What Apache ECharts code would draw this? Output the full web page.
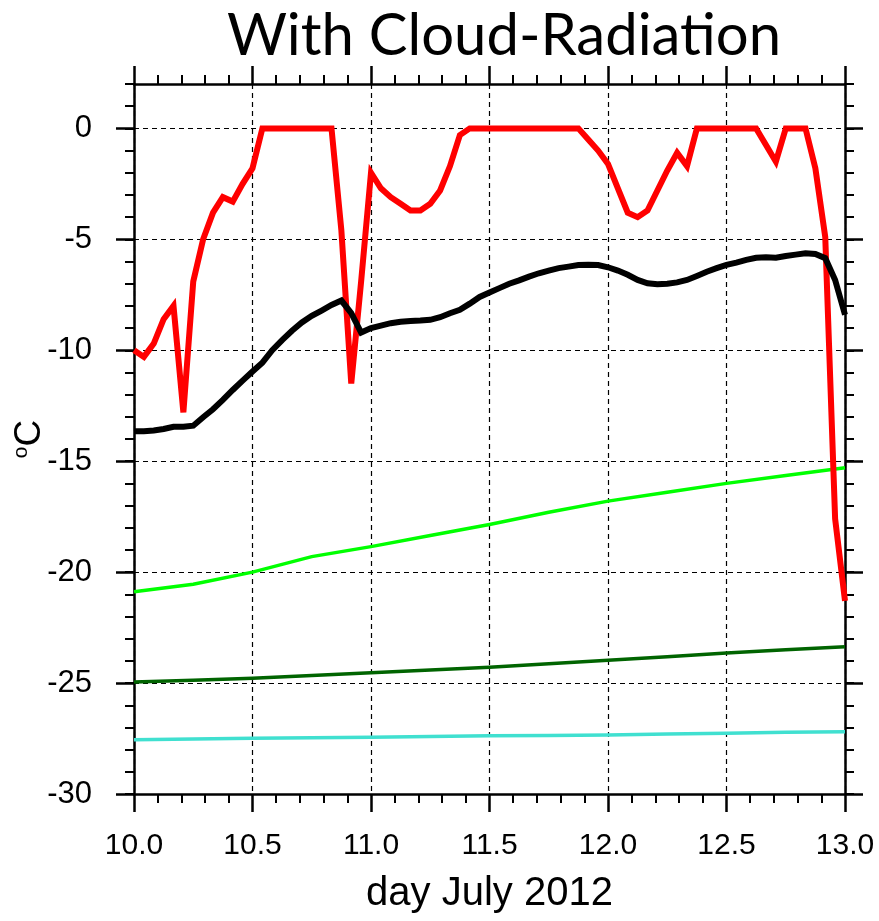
<!DOCTYPE html>
<html>
<head>
<meta charset="utf-8">
<script src="https://cdn.jsdelivr.net/npm/echarts@6/dist/echarts.min.js"></script>
<style>
  html, body { margin: 0; padding: 0; background: #fff; }
  #chart { width: 879px; height: 921px; }
</style>
</head>
<body>
<div id="chart"></div>
<script>
// hourly temperatures (degC), 10.0 -> 13.0 July 2012
var redT = [
  -10.0, -10.3, -9.7, -8.6, -8.0, -12.8, -6.9, -5.0, -3.8, -3.1, -3.3, -2.5, -1.8, 0,
  0, 0, 0, 0, 0, 0, 0,
  -4.6, -11.5, -6.9, -2.0, -2.7, -3.1, -3.4, -3.7, -3.7, -3.4, -2.8, -1.7, -0.3,
  0, 0, 0, 0, 0, 0, 0, 0, 0, 0, 0, 0,
  -0.5, -1.0, -1.6, -2.7, -3.8, -4.0, -3.7, -2.8, -1.9, -1.1, -1.7, 0,
  0, 0, 0, 0, 0, 0,
  -0.75, -1.5, 0, 0, 0, -1.8, -4.9, -17.6, -21.3
];
var blackT = [
  -13.65, -13.65, -13.62, -13.55, -13.45, -13.45, -13.4, -13.02, -12.66, -12.24,
  -11.79, -11.37, -10.96, -10.56, -10.0, -9.54, -9.12, -8.75, -8.45, -8.21,
  -7.96, -7.76, -8.33, -9.2, -9.0, -8.89, -8.78, -8.72, -8.68, -8.66,
  -8.63, -8.51, -8.33, -8.18, -7.9, -7.6, -7.4, -7.2, -7.0, -6.85,
  -6.68, -6.53, -6.41, -6.3, -6.23, -6.16, -6.15, -6.16, -6.26, -6.41,
  -6.6, -6.83, -6.98, -7.03, -7.0, -6.94, -6.83, -6.65, -6.46, -6.3,
  -6.15, -6.05, -5.93, -5.83, -5.81, -5.83, -5.75, -5.69, -5.63, -5.66,
  -5.85, -6.83, -8.4
];
// 6-hourly for the slow ones
var dayQ = [10, 10.25, 10.5, 10.75, 11, 11.25, 11.5, 11.75, 12, 12.25, 12.5, 12.75, 13];
var greenT = [-20.88, -20.55, -20.0, -19.3, -18.85, -18.35, -17.85, -17.3, -16.8, -16.4, -16.0, -15.65, -15.3];
var dkgreenT = [-24.95, -24.87, -24.78, -24.66, -24.53, -24.41, -24.29, -24.13, -23.97, -23.81, -23.65, -23.5, -23.36];
var turqT = [-27.55, -27.52, -27.49, -27.47, -27.44, -27.41, -27.38, -27.36, -27.34, -27.3, -27.26, -27.22, -27.19];

var yTicks = [-30, -25, -20, -15, -10, -5, 0];

var days = redT.map(function (v, i) { return 10 + i / 24; });
function pairs(xs, ys) { return ys.map(function (v, i) { return [xs[i], v]; }); }

var myChart = echarts.init(document.getElementById('chart'));

var lblFont = 'Liberation Sans';
var axLine = { onZero: false, lineStyle: { color: '#000', width: 2.5 } };
var majTick = { show: true, length: 18, lineStyle: { color: '#000', width: 2.5 } };
var minTick = { show: true, length: 9, lineStyle: { color: '#000', width: 2 } };
var dashed = { show: true, lineStyle: { type: [5, 4], color: '#000', width: 1.2 } };

function xAx(pos, main) {
  return {
    type: 'value', position: pos, min: 10, max: 13, interval: 0.5,
    axisLine: axLine,
    axisTick: majTick,
    minorTick: { show: true, splitNumber: 5, length: 9, lineStyle: { color: '#000', width: 2 } },
    splitLine: main ? dashed : { show: false },
    axisLabel: main ? {
      margin: 37, fontSize: 30, fontFamily: lblFont, color: '#000',
      formatter: function (v) { return v.toFixed(1); }
    } : { show: false },
    name: main ? 'day July 2012' : '',
    nameLocation: 'middle',
    nameGap: 80,
    nameMoveOverlap: false,
    nameTextStyle: { fontSize: 40, fontFamily: lblFont, color: '#000' }
  };
}
function yMajor(pos, main) {
  return {
    type: 'value', position: pos, offset: 0, min: -30, max: 2, interval: 5,
    axisLine: axLine,
    axisTick: Object.assign({ customValues: yTicks }, majTick),
    splitLine: main ? dashed : { show: false },
    axisLabel: main ? {
      customValues: yTicks, margin: 42, fontSize: 31, fontFamily: lblFont, color: '#000'
    } : { show: false },
    name: main ? '{s|o}C' : '',
    nameLocation: 'middle',
    nameRotate: 90,
    nameGap: 86,
    nameMoveOverlap: false,
    nameTextStyle: {
      fontSize: 37, fontFamily: lblFont, color: '#000',
      rich: { s: { fontSize: 21, fontFamily: lblFont, color: '#000', verticalAlign: 'top' } }
    }
  };
}
function yMinor(pos) {
  return {
    type: 'value', position: pos, offset: 0, min: -30, max: 2, interval: 1,
    axisLine: { show: false, onZero: false },
    axisTick: minTick,
    splitLine: { show: false },
    axisLabel: { show: false }
  };
}
function line(data, color, width) {
  return {
    type: 'line', data: data, xAxisIndex: 0, yAxisIndex: 0,
    symbol: 'none', showSymbol: false,
    lineStyle: { color: color, width: width, join: 'miter' }
  };
}

var option = {
  animation: false,
  backgroundColor: '#fff',
  title: {
    text: 'With Cloud-Radiation',
    left: 499, top: 2, textAlign: 'center',
    textStyle: { fontFamily: 'Lato', fontSize: 58, fontWeight: 'normal', color: '#000' }
  },
  grid: { left: 134, top: 84, width: 711, height: 710, outerBoundsMode: 'none' },
  xAxis: [xAx('bottom', true), xAx('top', false)],
  yAxis: [yMajor('left', true), yMinor('left'), yMajor('right', false), yMinor('right')],
  series: [
    line(pairs(dayQ, turqT), '#40e0d0', 3.5),
    line(pairs(dayQ, dkgreenT), '#006400', 3.5),
    line(pairs(dayQ, greenT), '#00ff00', 3.5),
    line(pairs(days, redT), '#ff0000', 6),
    line(pairs(days, blackT), '#000000', 6)
  ]
};

myChart.setOption(option);
window.addEventListener('resize', function () { myChart.resize(); });
</script>
</body>
</html>
